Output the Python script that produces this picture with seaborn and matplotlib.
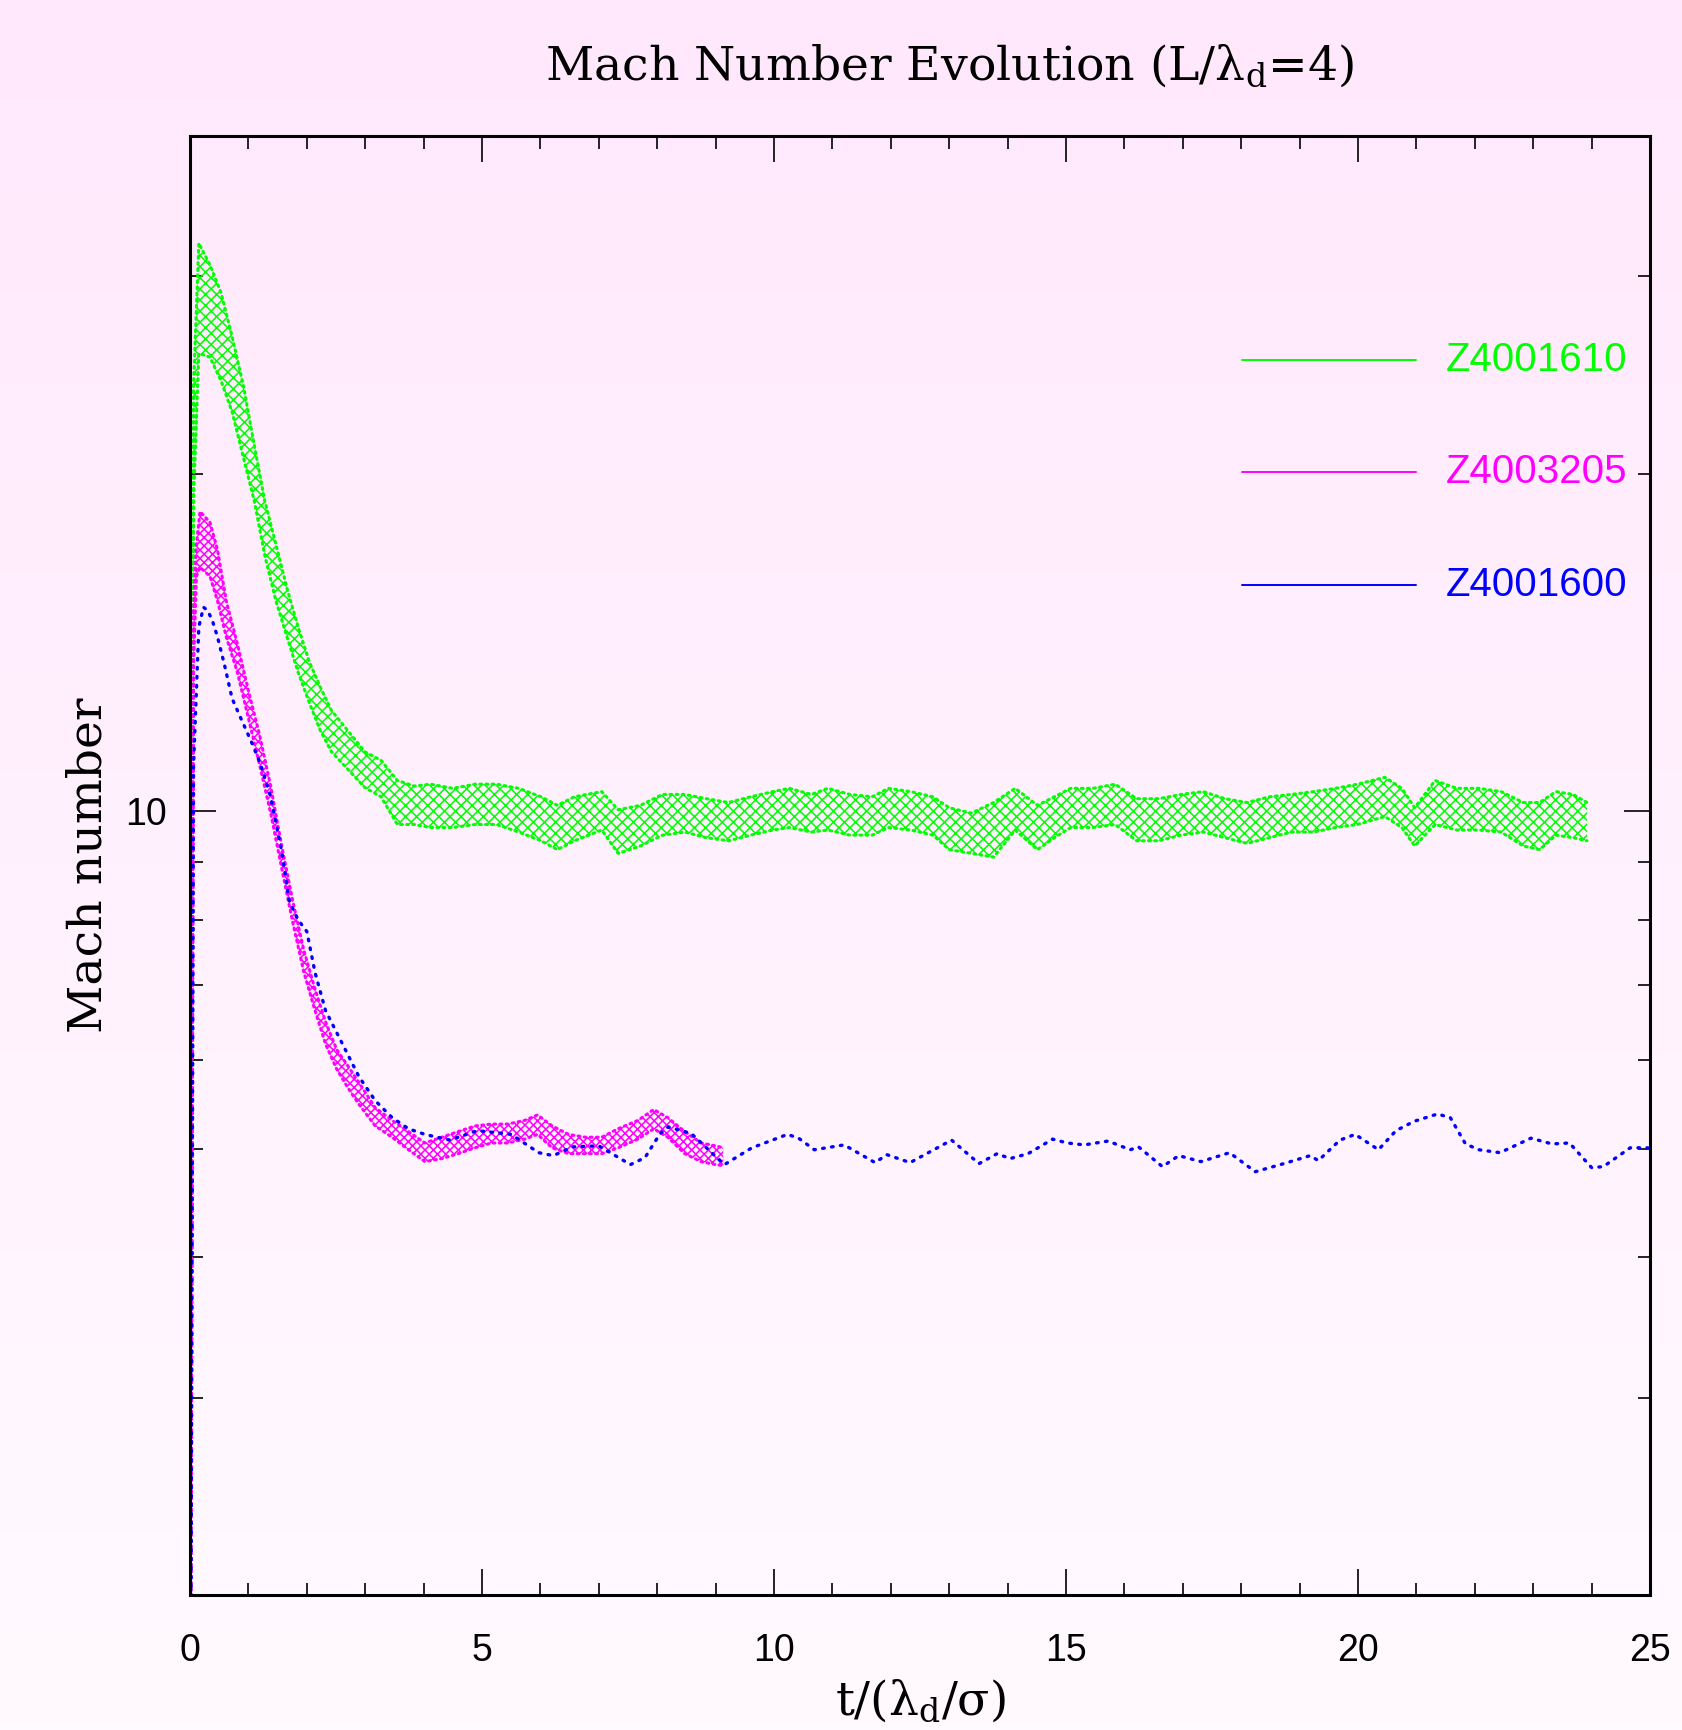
import numpy as np
import pandas as pd
import matplotlib
matplotlib.use("Agg")
import matplotlib.pyplot as plt
from matplotlib.ticker import FixedLocator, FixedFormatter, NullFormatter, MultipleLocator
import seaborn as sns

# --- data (t in units of lambda_d/sigma) ---
green_t = [0.0, 0.06, 0.15, 0.34, 0.53, 0.72, 0.91, 1.10, 1.28, 1.47, 1.66, 1.85,
           2.04, 2.23, 2.42, 2.70, 2.99, 3.27, 3.55, 3.84, 4.12, 4.50, 4.88, 5.25,
           5.63, 6.01, 6.29, 6.58, 7.05, 7.33, 7.71, 8.09, 8.47, 8.84, 9.22, 9.60,
           9.98, 10.26, 10.64, 10.92, 11.30, 11.68, 11.96, 12.34, 12.72, 13.00, 13.38,
           13.76, 14.13, 14.51, 14.80, 15.08, 15.46, 15.84, 16.21, 16.59, 16.97, 17.35,
           17.72, 18.10, 18.48, 18.86, 19.24, 19.61, 19.99, 20.46, 20.75, 20.97, 21.32,
           21.69, 22.07, 22.45, 22.83, 23.11, 23.39, 23.68, 23.92]
green_hi = [1.0, 24.0, 32.1, 30.7, 29.0, 26.5, 24.0, 21.2, 18.9, 17.3, 15.8, 14.6,
            13.6, 12.9, 12.3, 11.8, 11.3, 11.1, 10.65, 10.53, 10.57, 10.48, 10.57, 10.57,
            10.48, 10.30, 10.12, 10.30, 10.41, 10.03, 10.12, 10.35, 10.35, 10.26, 10.18, 10.30,
            10.41, 10.48, 10.35, 10.48, 10.35, 10.30, 10.48, 10.41, 10.30, 10.07, 9.96,
            10.18, 10.48, 10.12, 10.30, 10.48, 10.48, 10.57, 10.26, 10.26, 10.35, 10.41,
            10.26, 10.18, 10.30, 10.35, 10.41, 10.48, 10.57, 10.72, 10.48, 10.07, 10.65,
            10.48, 10.48, 10.41, 10.18, 10.18, 10.41, 10.35, 10.18]
green_lo = [1.0, 19.0, 25.6, 25.4, 24.2, 22.7, 20.7, 18.9, 16.9, 15.4, 14.3, 13.3,
            12.5, 11.8, 11.3, 10.9, 10.5, 10.3, 9.73, 9.73, 9.67, 9.67, 9.73, 9.73,
            9.58, 9.41, 9.24, 9.41, 9.62, 9.17, 9.31, 9.52, 9.58, 9.47, 9.41, 9.52,
            9.62, 9.67, 9.58, 9.62, 9.52, 9.52, 9.67, 9.62, 9.52, 9.24, 9.17,
            9.10, 9.62, 9.24, 9.47, 9.67, 9.67, 9.73, 9.41, 9.41, 9.52, 9.58,
            9.47, 9.36, 9.47, 9.58, 9.58, 9.67, 9.73, 9.89, 9.67, 9.31, 9.73,
            9.62, 9.62, 9.58, 9.31, 9.24, 9.52, 9.47, 9.41]

magenta_t = [0.0, 0.06, 0.11, 0.17, 0.34, 0.47, 0.62, 0.81, 1.00, 1.19, 1.38, 1.57,
             1.76, 1.95, 2.14, 2.32, 2.51, 2.70, 2.89, 3.17, 3.46, 3.74, 4.02, 4.31,
             4.59, 4.88, 5.16, 5.44, 5.73, 5.95, 6.20, 6.48, 6.77, 7.05, 7.33, 7.67,
             7.94, 8.18, 8.47, 8.75, 9.00, 9.13]
magenta_hi = [1.0, 15.0, 17.3, 18.5, 18.1, 17.1, 15.4, 14.1, 12.8, 11.7, 10.53, 9.31,
              8.31, 7.51, 6.94, 6.49, 6.13, 5.93, 5.73, 5.44, 5.30, 5.18, 5.06, 5.12,
              5.18, 5.24, 5.26, 5.26, 5.30, 5.36, 5.24, 5.15, 5.12, 5.12, 5.21, 5.30,
              5.42, 5.33, 5.18, 5.06, 5.03, 5.01]
magenta_lo = [1.0, 13.5, 16.2, 16.5, 16.2, 15.4, 14.3, 13.3, 12.1, 11.0, 9.96, 8.89,
              7.95, 7.18, 6.64, 6.20, 5.89, 5.67, 5.48, 5.24, 5.12, 4.99, 4.87, 4.90,
              4.95, 5.01, 5.06, 5.06, 5.10, 5.15, 5.01, 4.95, 4.95, 4.95, 5.01, 5.10,
              5.21, 5.12, 4.95, 4.87, 4.84, 4.83]

blue_t = [0.0, 0.06, 0.15, 0.23, 0.30, 0.38, 0.47, 0.59, 0.72, 0.87, 1.06, 1.21,
          1.38, 1.57, 1.70, 1.85, 2.00, 2.14, 2.32, 2.61, 2.89, 3.17, 3.46, 3.74,
          4.02, 4.45, 4.92, 5.50, 5.97, 6.22, 6.55, 7.00, 7.54, 7.79, 8.05, 8.19,
          8.58, 9.15, 9.62, 10.23, 10.42, 10.69, 11.20, 11.73, 11.93, 12.33, 13.04,
          13.51, 13.82, 14.04, 14.35, 14.77, 15.02, 15.31, 15.72, 16.10, 16.24, 16.65,
          16.93, 17.31, 17.80, 18.24, 18.73, 19.18, 19.32, 19.69, 19.95, 20.35, 20.65,
          20.96, 21.36, 21.58, 21.84, 22.07, 22.43, 22.96, 23.32, 23.62, 24.00, 24.20,
          24.66, 24.96]
blue_mach = [1.0, 11.0, 14.6, 15.2, 15.1, 14.8, 14.3, 13.5, 12.6, 12.1, 11.5, 11.0,
             10.3, 9.20, 8.31, 8.00, 7.81, 7.18, 6.64, 6.20, 5.80, 5.52, 5.33, 5.21,
             5.15, 5.09, 5.19, 5.15, 4.96, 4.93, 5.02, 5.03, 4.84, 4.91, 5.16, 5.23,
             5.16, 4.84, 5.01, 5.15, 5.11, 4.99, 5.04, 4.86, 4.94, 4.86, 5.09,
             4.85, 4.95, 4.90, 4.95, 5.10, 5.06, 5.04, 5.08, 4.99, 5.02, 4.82,
             4.93, 4.87, 4.96, 4.77, 4.85, 4.93, 4.88, 5.09, 5.15, 4.99, 5.19,
             5.29, 5.37, 5.33, 5.05, 4.99, 4.96, 5.11, 5.05, 5.06, 4.81, 4.82,
             5.01, 5.01]

run_names = ["Z4001610", "Z4003205", "Z4001600"]
run_colors = ["#00ff00", "#ff00ff", "#0000ff"]
y_major = [10]
y_minor = [3, 4, 5, 6, 7, 8, 9, 20, 30]

sns.set_theme(style="ticks")
plt.rcParams["font.family"] = ["Liberation Sans", "DejaVu Sans"]
plt.rcParams["mathtext.fontset"] = "custom"
plt.rcParams["mathtext.rm"] = "DejaVu Serif"
plt.rcParams["mathtext.it"] = "DejaVu Serif:italic"
plt.rcParams["hatch.linewidth"] = 1.1

fig = plt.figure(figsize=(16.82, 17.30), dpi=100)

# pale pink background fading downwards
bg = fig.add_axes([0, 0, 1, 1], zorder=-10)
top_c = np.array([255, 232, 252]) / 255
bot_c = np.array([255, 250, 255]) / 255
frac = np.linspace(0, 1, 256)[:, None, None]
bg.imshow(top_c + (bot_c - top_c) * frac, aspect="auto", extent=[0, 1, 0, 1])
bg.axis("off")

ax = fig.add_axes([0.1130, 0.0780, 0.8680, 0.8434])
ax.set_facecolor("none")
ax.set_yscale("log")

band_dots = dict(linestyle=(0, (0.6, 1.4)), linewidth=2.2, dash_capstyle="round",
                 estimator=None, sort=False, legend=False, ax=ax)
line_dots = dict(linestyle=(0, (0.5, 2.2)), linewidth=2.4, dash_capstyle="round",
                 estimator=None, sort=False, legend=False, ax=ax)

# green band
ax.fill_between(green_t, green_lo, green_hi, facecolor="none",
                edgecolor=run_colors[0], hatch="xxx", linewidth=0)
g = pd.DataFrame({"t": green_t, "hi": green_hi, "lo": green_lo})
sns.lineplot(data=g, x="t", y="hi", color=run_colors[0], **band_dots)
sns.lineplot(data=g, x="t", y="lo", color=run_colors[0], **band_dots)

# magenta band
ax.fill_between(magenta_t, magenta_lo, magenta_hi, facecolor="none",
                edgecolor=run_colors[1], hatch="xxxx", linewidth=0)
m = pd.DataFrame({"t": magenta_t, "hi": magenta_hi, "lo": magenta_lo})
sns.lineplot(data=m, x="t", y="hi", color=run_colors[1], **band_dots)
sns.lineplot(data=m, x="t", y="lo", color=run_colors[1], **band_dots)

# blue single run
b = pd.DataFrame({"t": blue_t, "mach": blue_mach})
sns.lineplot(data=b, x="t", y="mach", color=run_colors[2], **line_dots)

ax.set_xlim(0, 25)
ax.set_ylim(2, 40)

ax.xaxis.set_major_locator(MultipleLocator(5))
ax.xaxis.set_minor_locator(MultipleLocator(1))
ax.yaxis.set_major_locator(FixedLocator(y_major))
ax.yaxis.set_major_formatter(FixedFormatter([str(v) for v in y_major]))
ax.yaxis.set_minor_locator(FixedLocator(y_minor))
ax.yaxis.set_minor_formatter(NullFormatter())

ax.tick_params(which="both", direction="in", top=True, right=True,
               color="black", width=1.2)
ax.tick_params(which="major", length=19, labelsize=27, labelcolor="black")
ax.tick_params(which="minor", length=9)
ax.tick_params(axis="x", which="major", pad=27)
ax.tick_params(axis="y", which="major", pad=17)
for s in ax.spines.values():
    s.set_linewidth(2.2)
    s.set_color("black")

ax.set_xlabel("t/(λ$_{\\rm d}$/σ)", family="DejaVu Serif", fontsize=34, color="black")
ax.set_ylabel("Mach number", family="DejaVu Serif", fontsize=34, color="black")
ax.xaxis.set_label_coords(0.5, -0.057)
ax.yaxis.set_label_coords(-0.054, 0.5)

fig.text(949 / 1682, 1 - 66 / 1730, "Mach Number Evolution (L/λ$_{\\rm d}$=4)",
         ha="center", va="center", family="DejaVu Serif", fontsize=34, color="black")

# legend: short solid sample line + coloured name
leg_y = [0.8465, 0.7697, 0.6923]
for name, col, yy in zip(run_names, run_colors, leg_y):
    ax.plot([0.7205, 0.8397], [yy, yy], color=col, lw=1.4, transform=ax.transAxes)
    ax.text(0.860, yy, name, color=col, fontsize=29, va="center", ha="left",
            transform=ax.transAxes)

fig.savefig("out.png", dpi=100)
